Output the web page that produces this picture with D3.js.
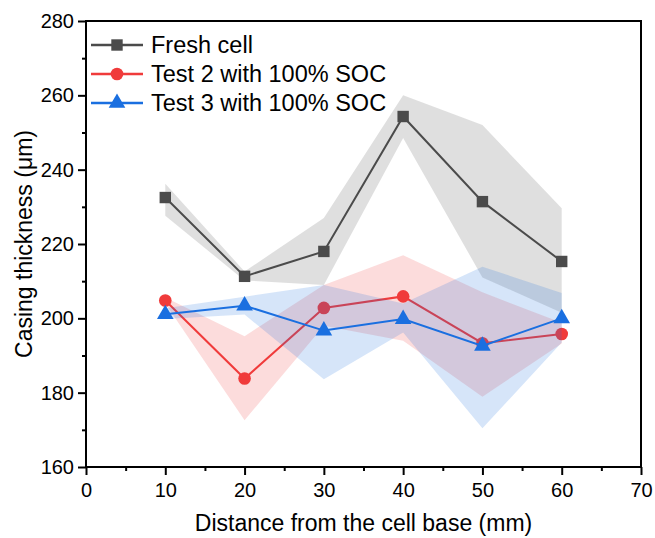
<!DOCTYPE html>
<html>
<head>
<meta charset="utf-8">
<script src="https://cdn.jsdelivr.net/npm/d3@7"></script>
<style>
  body { margin: 0; background: #fff; }
  svg { display: block; font-family: "Liberation Sans", Arial, Helvetica, sans-serif; }
</style>
</head>
<body>
<svg id="chart" width="655" height="538"></svg>
<script>
// Measurement positions (mm from the cell base)
const distances = [10, 20, 30, 40, 50, 60];

// Fresh cell
const freshMean = [232.5, 211.3, 218.0, 254.3, 231.4, 215.3];
const freshLow  = [227.6, 210.2, 209.0, 248.5, 211.0, 201.5];
const freshHigh = [236.2, 212.6, 227.0, 260.0, 252.0, 229.6];

// Test 2 with 100% SOC
const test2Mean = [204.8, 183.8, 202.8, 205.9, 193.3, 195.8];
const test2Low  = [204.0, 172.6, 198.0, 194.0, 178.9, 193.2];
const test2High = [205.6, 195.2, 209.0, 217.0, 207.0, 198.8];

// Test 3 with 100% SOC
const test3Mean = [201.1, 203.4, 196.7, 199.8, 192.6, 200.0];
const test3Low  = [199.8, 201.0, 183.6, 196.2, 170.4, 193.5];
const test3High = [202.7, 205.8, 209.0, 204.0, 213.9, 206.8];

const xTicks = [0, 10, 20, 30, 40, 50, 60, 70];
const yTicks = [160, 180, 200, 220, 240, 260, 280];

const series = [
  { name: "Fresh cell", mean: freshMean, low: freshLow, high: freshHigh, color: "#4b4b4b", symbol: d3.symbolSquare, size: 130 },
  { name: "Test 2 with 100% SOC", mean: test2Mean, low: test2Low, high: test2High, color: "#f03b3b", symbol: d3.symbolCircle, size: 125 },
  { name: "Test 3 with 100% SOC", mean: test3Mean, low: test3Low, high: test3High, color: "#1a6fe0", symbol: d3.symbolTriangle, size: 120 }
];

const svg = d3.select("#chart");
const margin = { top: 21, right: 14, bottom: 71, left: 86 };
const width = 655 - margin.left - margin.right;
const height = 538 - margin.top - margin.bottom;

const x = d3.scaleLinear().domain([0, 70]).range([0, width]);
const y = d3.scaleLinear().domain([160, 280]).range([height, 0]);

const g = svg.append("g").attr("transform", `translate(${margin.left},${margin.top})`);

const area = d3.area()
  .x((d, i) => x(distances[i]))
  .y0(d => y(d[0]))
  .y1(d => y(d[1]));

const line = d3.line()
  .x((d, i) => x(distances[i]))
  .y(d => y(d));

// Bands, lines and markers, drawn in series order so later bands tint earlier lines
series.forEach(s => {
  const band = s.low.map((lo, i) => [lo, s.high[i]]);
  g.append("path")
    .attr("d", area(band))
    .attr("fill", s.color)
    .attr("fill-opacity", 0.18);

  g.append("path")
    .attr("d", line(s.mean))
    .attr("fill", "none")
    .attr("stroke", s.color)
    .attr("stroke-width", 2);

  g.selectAll(null)
    .data(s.mean)
    .enter()
    .append("path")
    .attr("d", d3.symbol().type(s.symbol).size(s.size))
    .attr("transform", (d, i) => `translate(${x(distances[i])},${y(d)})`)
    .attr("fill", s.color);
});

// Axes
g.append("g")
  .attr("transform", `translate(0,${height})`)
  .call(d3.axisBottom(x).tickValues(xTicks).tickSize(8).tickPadding(8));
g.append("g")
  .call(d3.axisLeft(y).tickValues(yTicks).tickSize(8).tickPadding(4));

// minor ticks
g.append("g")
  .attr("transform", `translate(0,${height})`)
  .call(d3.axisBottom(x).tickValues(d3.range(5, 70, 10)).tickSize(4).tickFormat(""));
g.append("g")
  .call(d3.axisLeft(y).tickValues(d3.range(170, 280, 20)).tickSize(4).tickFormat(""));

g.selectAll(".domain").remove();
g.selectAll(".tick line").attr("stroke", "#000").attr("stroke-width", 2);
g.selectAll(".tick text").attr("fill", "#000").style("font-size", "20px");

// frame
g.append("rect")
  .attr("x", 0).attr("y", 0)
  .attr("width", width).attr("height", height)
  .attr("fill", "none")
  .attr("stroke", "#000")
  .attr("stroke-width", 2);

// Axis titles
svg.append("text")
  .attr("x", margin.left + width / 2)
  .attr("y", 531)
  .attr("text-anchor", "middle")
  .style("font-size", "23px")
  .text("Distance from the cell base (mm)");

svg.append("text")
  .attr("transform", `translate(32,${margin.top + height / 2}) rotate(-90)`)
  .attr("text-anchor", "middle")
  .style("font-size", "23px")
  .text("Casing thickness (\u03bcm)");

// Legend
const legend = svg.append("g").attr("transform", "translate(91,45)");
series.forEach((s, i) => {
  const row = legend.append("g").attr("transform", `translate(0,${i * 29})`);
  row.append("line")
    .attr("x1", 0).attr("x2", 52)
    .attr("stroke", s.color)
    .attr("stroke-width", 2.5);
  row.append("path")
    .attr("d", d3.symbol().type(s.symbol).size(s.size))
    .attr("transform", "translate(26,0)")
    .attr("fill", s.color);
  row.append("text")
    .attr("x", 60)
    .attr("y", 8)
    .style("font-size", "23.5px")
    .text(s.name);
});
</script>
</body>
</html>
